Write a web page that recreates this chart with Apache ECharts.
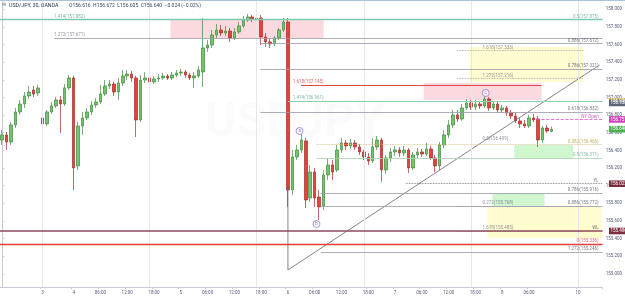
<!DOCTYPE html>
<html><head><meta charset="utf-8">
<script src="https://cdn.jsdelivr.net/npm/echarts@6/dist/echarts.min.js"></script>
<style>html,body{margin:0;padding:0;background:#fff}#c{width:625px;height:296px}</style>
</head><body><div id="c"></div>
<script>
// ---------- DATA ----------
const N = 135; // hourly slots on the time axis
const categories = [];
for (let i = 0; i < N; i++) {
  let d, h;
  if (i < 9) { d = 1; h = 8 + i; }
  else if (i < 129) { const t = 17 + (i - 9); d = 3 + Math.floor(t / 24); h = t % 24; }
  else { d = 10; h = 17 + (i - 129); }
  categories.push(d + ' ' + String(h).padStart(2, '0') + ':00');
}
const tickLabels = {9:'3',16:'4',22:'06:00',28:'12:00',34:'18:00',40:'5',46:'06:00',52:'12:00',58:'18:00',
  64:'6',70:'06:00',76:'12:00',82:'18:00',88:'7',94:'06:00',100:'12:00',106:'18:00',112:'8',118:'06:00',129:'10'};
const yTicks = [155.0,155.2,155.4,155.6,155.8,156.0,156.2,156.4,156.6,156.8,157.0,157.2,157.4,157.6,157.8,158.0];
const sessionBreaks = [9,33,57,81,105,129];

// [open, close, low, high]
const ohlc = [
[156.518,156.575,156.461,156.632],[156.575,156.495,156.405,156.609],[156.495,156.688,156.461,156.722],[156.688,156.836,156.654,156.881],
[156.836,156.926,156.802,156.972],[156.926,157.017,156.881,157.062],[157.017,157.062,156.983,157.130],[157.085,157.040,157.006,157.130],
[157.051,157.108,157.017,157.142],[156.768,156.700,156.677,156.790],[156.700,156.836,156.677,156.858],[156.836,156.904,156.813,156.949],
[156.904,156.972,156.881,157.006],[156.972,156.926,156.597,157.017],[156.926,157.108,156.904,157.153],[157.108,157.221,157.085,157.255],
[157.221,156.201,155.951,157.244],[156.223,156.677,156.178,156.722],[156.677,156.768,156.575,156.836],[156.768,156.836,156.745,156.881],
[156.836,156.915,156.802,156.960],[156.915,156.949,156.881,156.994],[156.949,157.040,156.926,157.142],[157.040,157.130,157.017,157.198],
[157.130,157.153,157.096,157.198],[157.153,157.062,157.017,157.176],[157.062,157.164,156.972,157.221],[157.164,157.244,157.130,157.312],
[157.244,157.266,157.198,157.312],[157.266,157.221,157.176,157.300],[157.221,156.745,156.552,157.244],[156.745,157.198,156.722,157.255],
[157.198,157.221,157.164,157.289],[157.221,157.176,157.142,157.255],[157.176,157.210,157.153,157.244],[157.210,157.221,157.176,157.266],
[157.221,157.244,157.198,157.278],[157.244,157.221,157.198,157.266],[157.221,157.255,157.198,157.289],[157.255,157.278,157.232,157.312],
[157.278,157.289,157.244,157.323],[157.289,157.255,157.221,157.312],[157.255,157.221,157.198,157.278],[157.221,157.244,157.108,157.289],
[157.244,157.312,157.221,157.357],[157.289,157.561,157.119,157.901],[157.561,157.595,157.516,157.652],[157.595,157.709,157.561,157.765],
[157.709,157.765,157.675,157.833],[157.765,157.731,157.697,157.822],[157.731,157.754,157.697,157.811],[157.754,157.675,157.629,157.788],
[157.675,157.743,157.652,157.788],[157.743,157.811,157.720,157.856],[157.811,157.879,157.788,157.924],[157.879,157.913,157.856,157.947],
[157.913,157.890,157.856,157.935],[157.890,157.901,157.867,157.947],[157.901,157.686,157.595,157.935],[157.686,157.629,157.573,157.731],
[157.629,157.607,157.561,157.675],[157.607,157.675,157.584,157.697],[157.675,157.765,157.652,157.788],[157.765,157.856,157.743,157.901],
[157.856,155.951,155.759,157.901],[155.951,156.325,155.895,156.405],[156.325,156.405,156.291,156.461],[156.405,156.518,156.371,156.586],
[156.507,155.838,155.747,156.541],[155.860,156.155,155.815,156.235],[156.155,155.860,155.759,156.201],[155.872,155.759,155.611,155.951],
[155.770,156.121,155.724,156.178],[156.121,156.235,156.065,156.314],[156.235,156.155,156.065,156.291],[156.178,156.405,156.155,156.461],
[156.405,156.484,156.371,156.541],[156.484,156.450,156.405,156.518],[156.450,156.484,156.416,156.529],[156.484,156.439,156.405,156.518],
[156.439,156.382,156.348,156.473],[156.382,156.325,156.291,156.405],[156.325,156.280,156.235,156.371],[156.280,156.439,156.257,156.541],
[156.439,156.518,156.405,156.563],[156.518,156.178,156.042,156.541],[156.178,156.314,156.133,156.348],[156.314,156.382,156.269,156.427],
[156.382,156.405,156.337,156.450],[156.405,156.371,156.325,156.439],[156.371,156.405,156.337,156.450],[156.405,156.201,156.144,156.427],
[156.201,156.348,156.178,156.382],[156.348,156.382,156.314,156.427],[156.382,156.359,156.325,156.416],[156.359,156.416,156.337,156.484],
[156.416,156.314,156.291,156.450],[156.314,156.223,156.155,156.348],[156.223,156.461,156.178,156.495],[156.461,156.575,156.427,156.632],
[156.575,156.688,156.541,156.745],[156.688,156.802,156.654,156.858],[156.802,156.756,156.722,156.858],[156.756,156.881,156.734,156.926],
[156.881,156.938,156.858,156.983],[156.938,156.892,156.858,156.972],[156.892,156.926,156.858,156.972],[156.926,156.904,156.870,156.960],
[156.904,156.983,156.881,157.017],[156.983,156.881,156.847,157.006],[156.881,156.926,156.858,156.960],[156.926,156.858,156.824,156.949],
[156.858,156.881,156.824,156.915],[156.881,156.824,156.790,156.904],[156.824,156.790,156.756,156.858],[156.790,156.734,156.711,156.836],
[156.734,156.700,156.654,156.768],[156.700,156.677,156.654,156.745],[156.677,156.768,156.654,156.802],[156.768,156.745,156.722,156.813],
[156.756,156.518,156.439,156.790],[156.518,156.654,156.484,156.677],[156.654,156.620,156.597,156.688],[156.616,156.640,156.605,156.672]
];

// Drawing anchors: [price, startSlot, endSlot, kind]
const levels = [
  [157.882, -0.5, 134.5, 'teal'],
  [157.671, 11.6, 134.5, 'gray'],
  [157.612, 57.8, 134.5, 'gray'],
  [157.533, 101.9, 130.1, 'grayDot'],
  [157.321, 57.8, 134.5, 'gray'],
  [157.216, 101.9, 130.1, 'grayDot'],
  [157.142, 66.9, 120.8, 'red'],
  [156.961, 64.0, 134.5, 'green'],
  [156.832, 57.8, 134.5, 'gray'],
  [156.751, 119.7, 134.5, 'pinkDot'],
  [156.466, 70.4, 134.5, 'oliveDot'],
  [156.314, 70.4, 134.5, 'greenThin'],
  [156.022, 90.4, 134.5, 'darkDot'],
  [155.916, 71.3, 134.5, 'gray'],
  [155.770, 71.3, 134.5, 'gray'],
  [155.768, 101.9, 130.1, 'grayDot'],
  [155.485, 101.9, 130.1, 'grayDot'],
  [155.486, -0.5, 134.5, 'maroon'],
  [155.336, -0.5, 134.5, 'redFull'],
  [155.246, 71.3, 134.5, 'gray']
];
// Zones: [priceTop, priceBottom, startSlot, endSlot, kind]
const zones = [
  [157.882, 157.671, 37.7, 72.0, 'redZone'],
  [157.164, 156.972, 94.4, 120.8, 'redZone'],
  [157.573, 157.176, 104.7, 130.1, 'yellowZone'],
  [156.461, 156.314, 114.7, 127.9, 'greenZone'],
  [155.916, 155.770, 109.8, 121.5, 'greenZone'],
  [155.759, 155.407, 108.7, 134.3, 'yellowZone']
];
// Level texts: [slot, price, text, side, kind]
const levelTexts = [
  [11.6, 157.882, '1.414(157.882)', 'left', 'tealT'],
  [133.6, 157.875, '0.5(157.875)', 'right', 'tealT'],
  [11.6, 157.671, '1.272(157.671)', 'left', 'grayT'],
  [133.6, 157.612, '0.886(157.612)', 'right', 'darkT'],
  [107.6, 157.533, '1.618(157.533)', 'left', 'grayT'],
  [133.6, 157.321, '0.786(157.321)', 'right', 'darkT'],
  [107.6, 157.216, '1.272(157.216)', 'left', 'grayT'],
  [65.1, 157.145, '1.618(157.145)', 'left', 'redT'],
  [65.1, 156.961, '1.414(156.961)', 'left', 'tealT'],
  [133.6, 156.832, '0.618(156.832)', 'right', 'darkT'],
  [133.6, 156.751, 'NY Open', 'right', 'pinkT'],
  [107.6, 156.499, '0.5(156.499)', 'left', 'grayT'],
  [133.6, 156.466, '0.382(156.466)', 'right', 'oliveT'],
  [133.6, 156.314, '0.5(156.311)', 'right', 'tealT'],
  [133.6, 156.022, 'YL', 'right', 'darkT'],
  [133.6, 155.916, '0.786(155.916)', 'right', 'darkT'],
  [107.6, 155.768, '0.272(155.768)', 'left', 'grayT'],
  [133.6, 155.772, '0.886(155.772)', 'right', 'darkT'],
  [107.6, 155.485, '1.618(155.485)', 'left', 'grayT'],
  [133.6, 155.486, 'WL', 'right', 'darkT'],
  [133.6, 155.336, '0(155.336)', 'right', 'redT'],
  [133.6, 155.246, '1.272(155.246)', 'right', 'darkT']
];
// Trend drawing anchors (slot, price)
const trendLine = [[64, 155.044], [133.8, 157.368]];
const dropLine = [[64, 155.044], [64, 156.0]];
// Wave labels: [slot, price, letter]
const waveLabels = [[66.6, 156.620, 'a'], [70.4, 155.566, 'b'], [108.3, 157.051, 'c']];
// Right scale price tags: [price, kind]
const priceTags = [[156.956, 'olive'], [156.938, 'slate'], [156.751, 'pink'], [156.640, 'last'], [156.022, 'maroon'], [155.486, 'maroon']];
const header = { sym: 'USD/JPY, 30, OANDA', vals: 'O156.616  H156.672  L156.605  C156.640  \u22120.024 (\u22120.02%)' };

// ---------- STYLES ----------
const lineStyles = {
  teal: {color:'#7ccbb0', width:1.4, type:'solid'},
  gray: {color:'#9a9aaa', width:0.8, type:'solid'},
  grayDot: {color:'#9a9aaa', width:0.8, type:'dotted'},
  red: {color:'#e04848', width:1.2, type:'solid'},
  green: {color:'#8fd0a8', width:1, type:'solid'},
  pinkDot: {color:'#e050c8', width:0.8, type:'dashed'},
  oliveDot: {color:'#d0b870', width:0.8, type:'dotted'},
  greenThin: {color:'#a8d0b0', width:0.8, type:'solid'},
  darkDot: {color:'#666', width:0.8, type:'dotted'},
  maroon: {color:'#8e4a5e', width:1.6, type:'solid'},
  redFull: {color:'#e03c3c', width:1.3, type:'solid'}
};
const zoneStyles = {
  redZone: 'rgba(242,150,160,0.35)',
  yellowZone: 'rgba(255,250,170,0.55)',
  greenZone: 'rgba(150,235,150,0.45)'
};
const textColors = {tealT:'#5aa888', grayT:'#777788', darkT:'#555566', redT:'#d84040', pinkT:'#d040b8', oliveT:'#c0a040'};
const tagColors = {olive:'#c2ad3c', slate:'#5d6478', pink:'#d040b8', last:'#4caf50', maroon:'#7b2d40'};

// ---------- CHART ----------
const chart = echarts.init(document.getElementById('c'));
const F = 'Roboto, "DejaVu Sans", sans-serif';

const option = {
  animation: false,
  backgroundColor: '#ffffff',
  grid: { left: -3, right: 15, top: 0, bottom: 9 },
  xAxis: [
    { type: 'category', data: categories, boundaryGap: true,
      axisLine: { lineStyle: { color: '#c9cad3' } },
      axisTick: { show: true, length: 2, interval: (i) => tickLabels[i] !== undefined, lineStyle: {color:'#c9cad3'} },
      axisLabel: { interval: (i) => tickLabels[i] !== undefined, formatter: (v, i) => tickLabels[i] || '',
        fontSize: 4.5, color: '#565a7a', margin: 3, fontFamily: F },
      splitLine: { show: false } },
    { type: 'value', min: -0.5, max: N - 0.5, show: false }
  ],
  yAxis: [{
    type: 'value', position: 'right', min: 154.851, max: 158.105, scale: true,
    axisLine: { show: true, lineStyle: { color: '#c9cad3' } },
    axisTick: { show: true, length: 2, customValues: yTicks, lineStyle: {color:'#c9cad3'} },
    axisLabel: { customValues: yTicks, formatter: (v) => v.toFixed(3), fontSize: 4.5, color: '#565a7a', margin: 3, fontFamily: F },
    splitLine: { show: false }
  }],
  series: [
    { type: 'line', xAxisIndex: 1, data: [], z: 1, silent: true,
      markArea: { silent: true, data: zones.map(z => [
        { coord: [z[2], z[0]], itemStyle: { color: zoneStyles[z[4]] } },
        { coord: [z[3], z[1]] }]) },
      markLine: { silent: true, symbol: ['none','none'], label: {show:false},
        lineStyle: { color: '#e6e7ec', width: 1, type: 'solid' },
        data: sessionBreaks.map(s => ({ xAxis: s })) } },
    { type: 'line', xAxisIndex: 1, data: [], z: 2, silent: true,
      markLine: { silent: true, symbol: ['none','none'], label: {show:false},
        data: levels.map(l => [
          { coord: [l[1], l[0]], lineStyle: lineStyles[l[3]] },
          { coord: [l[2], l[0]] }]) } },
    { type: 'candlestick', xAxisIndex: 0, data: ohlc, z: 3, barWidth: 3,
      itemStyle: { color: '#74c46c', color0: '#e2443c', borderColor: '#3e8a3e', borderColor0: '#a82a2a', borderWidth: 0.7 } },
    { type: 'line', xAxisIndex: 1, data: trendLine, z: 4, symbol: 'none', silent: true,
      lineStyle: { color: '#666677', width: 0.8 } },
    { type: 'line', xAxisIndex: 1, data: dropLine, z: 4, symbol: 'none', silent: true,
      lineStyle: { color: '#666677', width: 0.8 } },
    { type: 'scatter', xAxisIndex: 1, z: 5, symbolSize: 0, silent: true,
      data: levelTexts.map(t => ({ value: [t[0], t[1]],
        label: { show: true, formatter: t[2], position: [0, 0], align: t[3], verticalAlign: 'bottom',
          offset: [0, -0.5], fontSize: 4.5, fontFamily: F, color: textColors[t[4]] } })) },
    { type: 'scatter', xAxisIndex: 1, z: 6, symbol: 'circle', symbolSize: 7, silent: true,
      itemStyle: { color: '#ffffff', borderColor: '#7c5cc4', borderWidth: 0.8 },
      label: { show: true, position: 'inside', formatter: (p) => p.data[2], fontSize: 5, color: '#7c5cc4', fontFamily: F },
      data: waveLabels }
  ]
};
chart.setOption(option);

const g = [];
g.push({ type: 'text', left: 205, top: 100, z: 0, style: { text: 'USDJPY', fontSize: 48, fontWeight: 'bold', fontFamily: F, fill: 'rgba(60,70,100,0.018)' } });
g.push({ type: 'rect', shape: { x: 0, y: 0, width: 625, height: 1 }, style: { fill: '#a9c4dc' }, z: 10 });
g.push({ type: 'text', x: 2, y: 5, style: { text: '\u229E', fontSize: 5, fill: '#7a7e96', verticalAlign: 'middle', fontFamily: F }, z: 10 });
g.push({ type: 'text', x: 9, y: 5.5, style: { text: header.sym + '  \u00B7', fontSize: 5.3, fill: '#2f3350', verticalAlign: 'middle', fontFamily: F }, z: 10 });
g.push({ type: 'text', x: 69, y: 5.5, style: { text: header.vals, fontSize: 5, fill: '#3e4262', verticalAlign: 'middle', fontFamily: F }, z: 10 });
priceTags.forEach(t => {
  const y = chart.convertToPixel({ yAxisIndex: 0 }, t[0]);
  g.push({ type: 'rect', shape: { x: 609, y: y - 3.3, width: 16, height: 6.6 }, style: { fill: tagColors[t[1]] }, z: 10 });
  g.push({ type: 'text', x: 610.5, y: y, style: { text: t[0].toFixed(3), fontSize: 4.5, fill: '#ffffff', verticalAlign: 'middle', fontFamily: F }, z: 11 });
});
chart.setOption({ graphic: g });
</script></body></html>
